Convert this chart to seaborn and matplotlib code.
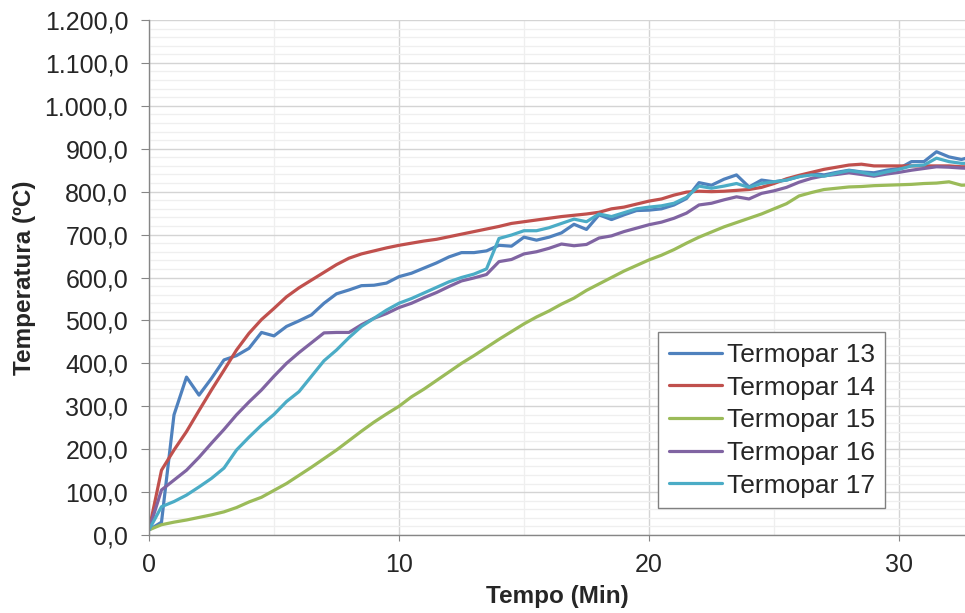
import pandas as pd
import seaborn as sns
import matplotlib.pyplot as plt
from matplotlib.ticker import MultipleLocator, FuncFormatter

# tempo (min) e leituras dos termopares (ºC)
tempo = [0, 0.5, 1, 1.5, 2, 2.5, 3, 3.5, 4, 4.5, 5, 5.5, 6, 6.5, 7, 7.5, 8, 8.5, 9, 9.5,
         10, 10.5, 11, 11.5, 12, 12.5, 13, 13.5, 14, 14.5, 15, 15.5, 16, 16.5, 17, 17.5,
         18, 18.5, 19, 19.5, 20, 20.5, 21, 21.5, 22, 22.5, 23, 23.5, 24, 24.5, 25, 25.5,
         26, 26.5, 27, 27.5, 28, 28.5, 29, 29.5, 30, 30.5, 31, 31.5, 32, 32.5, 33]

t13 = [12, 30, 280, 368, 326, 365, 408, 418, 435, 472, 464, 486, 499, 513, 540, 562, 571,
       581, 582, 587, 602, 610, 622, 634, 648, 658, 658, 662, 675, 673, 694, 687, 694, 704,
       724, 712, 746, 735, 746, 756, 757, 760, 769, 784, 821, 815, 829, 839, 811, 827, 823,
       827, 835, 843, 839, 845, 850, 846, 844, 850, 854, 870, 870, 893, 881, 875, 883]
t14 = [12, 151, 198, 241, 290, 338, 384, 431, 470, 502, 528, 555, 576, 594, 612, 630, 645,
       655, 662, 669, 675, 680, 685, 689, 695, 701, 707, 713, 719, 726, 730, 734, 738, 742,
       745, 748, 752, 760, 764, 771, 778, 783, 792, 799, 801, 800, 801, 803, 805, 810, 819,
       830, 838, 845, 852, 857, 862, 864, 860, 860, 860, 860, 860, 860, 860, 858, 858]
t15 = [12, 24, 30, 35, 41, 47, 54, 64, 77, 88, 104, 120, 139, 158, 178, 198, 220, 242, 263,
       282, 300, 322, 340, 360, 380, 400, 418, 437, 456, 474, 492, 508, 522, 538, 552, 570,
       585, 600, 615, 628, 641, 652, 665, 680, 694, 706, 718, 728, 738, 748, 760, 772, 790,
       798, 805, 808, 811, 812, 814, 815, 816, 817, 819, 820, 823, 815, 816]
t16 = [12, 105, 128, 151, 181, 214, 246, 280, 310, 338, 370, 400, 425, 448, 471, 472, 472,
       490, 505, 516, 530, 540, 553, 565, 579, 592, 599, 607, 637, 642, 655, 660, 668, 678,
       674, 677, 692, 697, 707, 715, 723, 729, 738, 750, 769, 773, 781, 788, 783, 796, 802,
       810, 822, 831, 837, 840, 844, 840, 836, 841, 845, 850, 854, 858, 857, 855, 854]
t17 = [12, 66, 78, 93, 112, 132, 156, 198, 228, 256, 281, 311, 334, 370, 406, 431, 460,
       486, 505, 524, 540, 551, 564, 577, 590, 600, 608, 620, 691, 699, 709, 709, 716, 726,
       736, 730, 748, 742, 751, 760, 764, 767, 773, 787, 813, 808, 813, 819, 810, 819, 823,
       827, 835, 839, 836, 843, 849, 845, 839, 846, 852, 860, 862, 878, 870, 866, 866]

nomes = ["Termopar 13", "Termopar 14", "Termopar 15", "Termopar 16", "Termopar 17"]
cores = ["#4F81BD", "#C0504D", "#9BBB59", "#8064A2", "#4BACC6"]

df = pd.DataFrame({"Tempo": tempo, nomes[0]: t13, nomes[1]: t14, nomes[2]: t15,
                   nomes[3]: t16, nomes[4]: t17})
df = df.melt(id_vars="Tempo", var_name="Termopar", value_name="Temperatura")

sns.set_style("white")
plt.rcParams["font.family"] = ["Liberation Sans", "DejaVu Sans"]

fig = plt.figure(figsize=(9.65, 6.13), dpi=100)
ax = fig.add_axes([0.1544, 0.1272, 0.8456, 0.8402])

sns.lineplot(data=df, x="Tempo", y="Temperatura", hue="Termopar",
             palette=dict(zip(nomes, cores)), linewidth=2.3, ax=ax)

ax.set_xlim(0, 32.64)
ax.set_ylim(0, 1200)
ax.xaxis.set_major_locator(MultipleLocator(10))
ax.xaxis.set_minor_locator(MultipleLocator(5))
ax.yaxis.set_major_locator(MultipleLocator(100))
ax.yaxis.set_minor_locator(MultipleLocator(20))
ax.yaxis.set_major_formatter(FuncFormatter(
    lambda v, p: f"{v:,.1f}".replace(",", "X").replace(".", ",").replace("X", ".")))

ax.grid(which="major", color="#d4d4d4", linewidth=1.0)
ax.grid(which="minor", color="#efefef", linewidth=0.9)
ax.set_axisbelow(True)

for s in ["top", "right"]:
    ax.spines[s].set_visible(False)
for s in ["left", "bottom"]:
    ax.spines[s].set_color("#868686")
    ax.spines[s].set_linewidth(1.0)

ax.tick_params(axis="y", which="major", direction="out", length=6, color="#868686",
               labelsize=18, pad=9, left=True)
ax.tick_params(axis="x", which="major", direction="out", length=4, color="#868686",
               labelsize=18, pad=9, bottom=True)
ax.tick_params(which="minor", length=0)

ax.set_xlabel("Tempo (Min)", fontsize=17.5, fontweight="bold", labelpad=6)
ax.set_ylabel("Temperatura (ºC)", fontsize=17.5, fontweight="bold", labelpad=6)

ax.legend(loc="lower left", bbox_to_anchor=(0.624, 0.052), fontsize=19,
          frameon=True, fancybox=False, edgecolor="#808080", framealpha=1,
          handlelength=2.0, handletextpad=0.2, labelspacing=0.33,
          borderpad=0.4, borderaxespad=0)

fig.savefig("out.png", dpi=100)
